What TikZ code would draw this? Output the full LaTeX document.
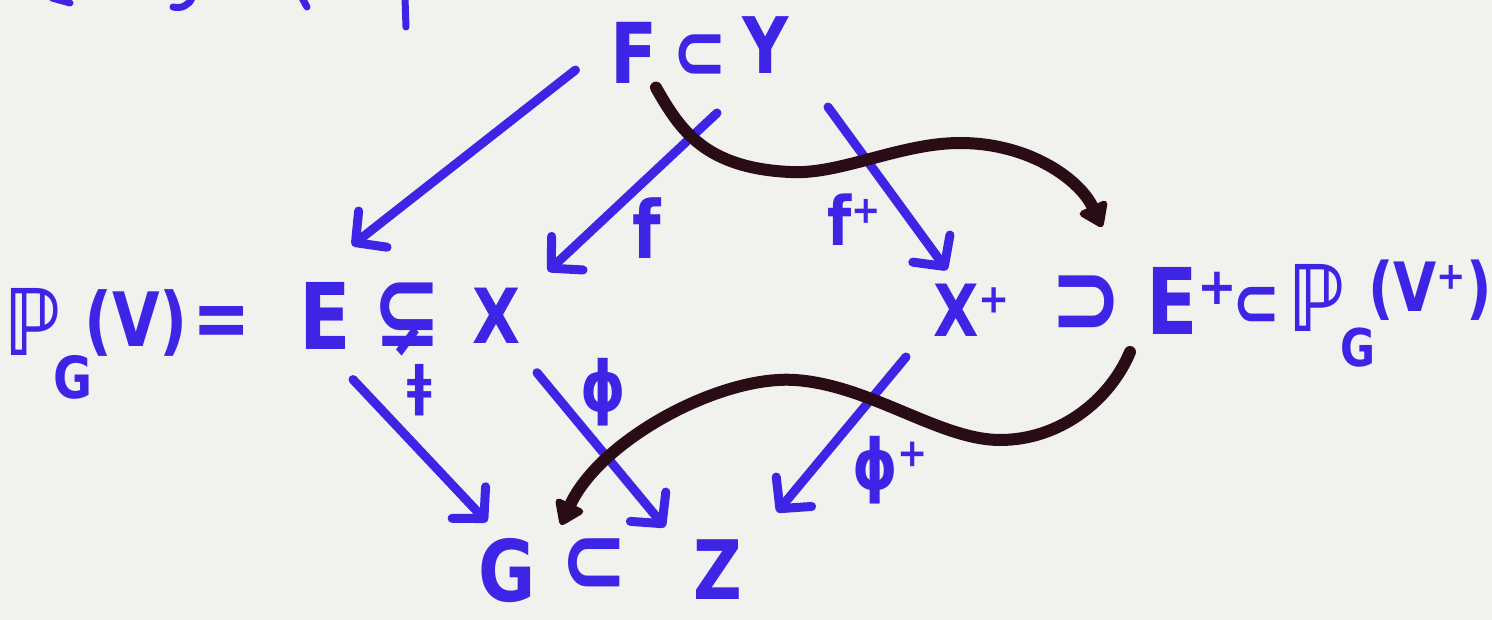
\documentclass[tikz,border=0pt]{standalone}
\usepackage{fontspec}
\usetikzlibrary{arrows.meta,calc}
\newfontfamily\handfont{DejaVu Sans}[FakeStretch=0.82]
\definecolor{ink}{RGB}{62,36,228}
\definecolor{darkink}{RGB}{42,12,22}
\definecolor{bg}{RGB}{241,241,237}
\tikzset{
  hand/.style={font=\handfont\bfseries\fontsize{#1}{#1}\selectfont, text=ink, inner sep=0pt, outer sep=0pt},
  barrow/.style={draw=ink, line width=9pt, line cap=round, -{Straight Barb[length=22pt,width=46pt,round]}},
  karrow/.style={draw=darkink, line width=12pt, line cap=round, -{Triangle[length=26pt,width=34pt,round]}},
  frag/.style={draw=ink, line width=7pt, line cap=round}
}
\begin{document}
\begin{tikzpicture}[x=1pt,y=-1pt]
\fill[bg] (0,0) rectangle (1492,620);
\useasboundingbox (0,0) rectangle (1492,620);
% fragments of cut-off writing at the top edge
\draw[frag] (52,-2) -- (70,3);
\draw[frag] (173,7) .. controls (182,9) and (189,5) .. (192,-2);
\draw[frag] (302,-2) -- (307,7);
\draw[frag] (405,-2) -- (406,27);
% top row
\node[hand=84] (F) at (634,53) {F};
\node[hand=80] (fy) at (700,57) {⊂};
\node[hand=78] (Y) at (766,45) {Y};
% left row
\node[hand=92] (P) at (33,322) {ℙ};
\node[hand=58] (Gs) at (73,377) {G};
\node[hand=75] (V) at (136,323) {(V)};
\node[hand=85] (eq) at (222,327) {=};
\node[hand=92] (E) at (325,316) {E};
\node[hand=100] (sub) at (407,320) {⊊};
\node[hand=76] (X) at (497,316) {X};
% right row
\node[hand=72, anchor=base west] (Xp) at (933,337) {X⁺};
\node[hand=105] (sup) at (1087,305) {⊃};
\node[hand=92, anchor=base west] (Ep) at (1146,335) {E⁺};
\node[hand=70] (subb) at (1257,307) {⊂};
\node[hand=92] (P2) at (1317,298) {ℙ};
\node[hand=52] (Gs2) at (1358,348) {G};
\node[hand=68] (V2) at (1430,290) {(V⁺)};
% bottom row
\node[hand=85] (G) at (507,571) {G};
\node[hand=98] (subc) at (594,566) {⊂};
\node[hand=82] (Z) at (718,570) {Z};
% labels
\node[hand=80] (lf) at (647,228) {f};
\node[hand=68] (lfp) at (854,220) {f⁺};
\node[hand=55] (lfb) at (420,390) {ǂ};
\node[hand=70] (lphi) at (603,392) {ϕ};
\node[hand=70] (lphip) at (890,470) {ϕ⁺};
% blue arrows
\draw[barrow] ($(F.west)+(-35,17)$) -- ($(E.north)+(27,-37)$);
\draw[barrow] ($(fy)+(17,56)$) -- ($(X.north)+(51,-17)$);
\draw[barrow] ($(Y)+(62,62)$) -- ($(Xp.base west)+(14,-67)$);
\draw[barrow] ($(E.south)+(28,30)$) -- ($(G.north)+(-20,-17)$);
\draw[barrow] ($(X.south)+(40,29)$) -- ($(Z.north)+(-53,-13)$);
\draw[barrow] ($(Xp.base west)+(-27,20)$) -- ($(Z.north)+(59,-28)$);
% dark curved arrows
\draw[karrow] ($(F.south)+(22,4)$) .. controls (680,130) and (705,168) .. (790,172)
  .. controls (840,175) and (900,143) .. (960,143)
  .. controls (1030,143) and (1080,180) .. ($(Ep.base west)+(-44,-108)$);
\draw[karrow] ($(Ep.base west)+(-16,17)$) .. controls (1110,400) and (1060,440) .. (1000,440)
  .. controls (940,440) and (870,385) .. (795,380)
  .. controls (720,375) and (600,440) .. ($(G.north)+(54,-14)$);
\end{tikzpicture}
\end{document}
